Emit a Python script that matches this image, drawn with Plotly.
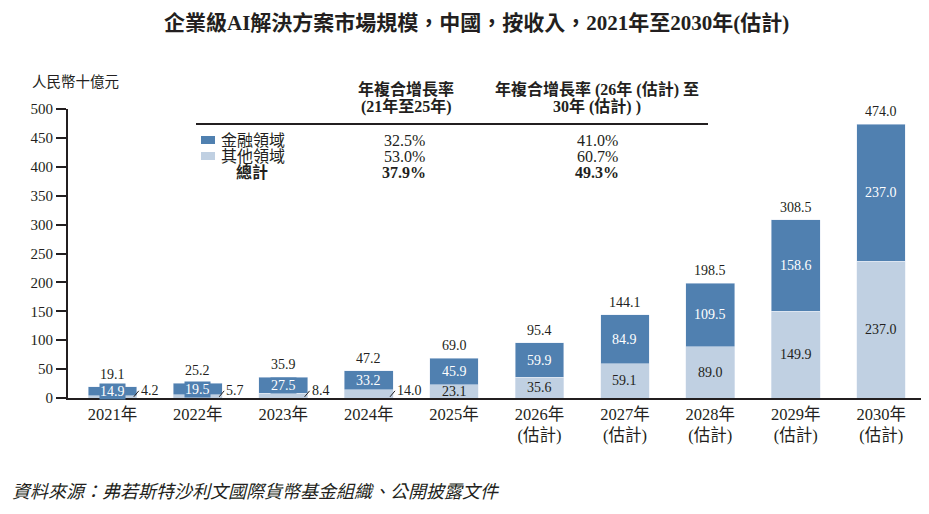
import plotly.graph_objects as go

# ---- data ----
years = [2021, 2022, 2023, 2024, 2025, 2026, 2027, 2028, 2029, 2030]
year_labels = ["2021年", "2022年", "2023年", "2024年", "2025年",
               "2026年<br>(估計)", "2027年<br>(估計)", "2028年<br>(估計)",
               "2029年<br>(估計)", "2030年<br>(估計)"]
finance = [14.9, 19.5, 27.5, 33.2, 45.9, 59.9, 84.9, 109.5, 158.6, 237.0]
other = [4.2, 5.7, 8.4, 14.0, 23.1, 35.6, 59.1, 89.0, 149.9, 237.0]
total = [19.1, 25.2, 35.9, 47.2, 69.0, 95.4, 144.1, 198.5, 308.5, 474.0]
y_ticks = [0, 50, 100, 150, 200, 250, 300, 350, 400, 450, 500]

segment_names = ["金融領域", "其他領域", "總計"]
cagr_hist = ["32.5%", "53.0%", "37.9%"]
cagr_fcst = ["41.0%", "60.7%", "49.3%"]
hist_header = ["年複合增長率", "(21年至25年)"]
fcst_header = ["年複合增長率 (26年 (估計) 至", "30年 (估計) )"]

title = "企業級AI解決方案市場規模，中國，按收入，2021年至2030年(估計)"
unit = "人民幣十億元"
source = "資料來源：弗若斯特沙利文國際貨幣基金組織、公開披露文件"

DARK = "#5080b0"
LIGHT = "#c0d0e2"
INK = "#231f20"
FONT = "Liberation Serif, 'Noto Sans CJK TC', serif"

# the page body has an 8px margin, so the figure is drawn 8px in from the window corner
OFF = 8
W, H = 929 - OFF, 514 - OFF
L, R, T, B = 68 - OFF, 6, 109 - OFF, 116

PLOT_W = W - L - R
PLOT_H = H - T - B


def px(x):
    # window x pixel -> paper
    return (x - 68) / PLOT_W


def py(y):
    # window y pixel -> paper
    return (398 - y) / PLOT_H


def note(x, y, text, size=16, xanchor="center", **kw):
    return dict(xref="paper", yref="paper", x=px(x), y=py(y), text=text,
                xanchor=xanchor, yanchor="middle", showarrow=False,
                font=dict(size=size, color=INK), **kw)


fig = go.Figure()
fig.add_trace(go.Bar(x=years, y=other, name="其他領域", marker_color=LIGHT,
                     width=0.57, showlegend=False, hoverinfo="y"))
fig.add_trace(go.Bar(x=years, y=finance, name="金融領域", marker_color=DARK,
                     width=0.57, showlegend=False, hoverinfo="y"))

ann = []
for yr, f, o, t in zip(years, finance, other, total):
    # total above the bar
    ann.append(dict(x=yr, y=t, text=f"{t:.1f}", showarrow=False, xanchor="center",
                    yanchor="bottom", yshift=3, font=dict(size=14, color=INK)))
    # finance segment (white)
    ann.append(dict(x=yr, y=o + f / 2, text=f"{f:.1f}", showarrow=False,
                    xanchor="center", yanchor="middle", bgcolor=DARK, borderpad=0,
                    font=dict(size=14, color="white")))
    # other segment: small ones sit outside with a leader line
    if yr <= 2024:
        ann.append(dict(x=yr + 0.25, y=2, text=f"{o:.1f}", showarrow=True,
                        arrowhead=0, arrowwidth=1, arrowcolor=INK,
                        ax=5, ay=-6, xanchor="left", yanchor="middle",
                        font=dict(size=14, color=INK)))
    else:
        ann.append(dict(x=yr, y=o / 2, text=f"{o:.1f}", showarrow=False,
                        xanchor="center", yanchor="middle",
                        font=dict(size=14, color=INK)))

# title, unit, source
ann.append(note(476, 23, f"<b>{title}</b>", size=21))
ann.append(note(30, 82, unit, size=14.5, xanchor="left"))
ann.append(note(10, 492, f"<i>{source}</i>", size=18, xanchor="left"))

# CAGR table
for i, line in enumerate(hist_header):
    ann.append(note(406, 89 + 18 * i, f"<b>{line}</b>"))
for i, line in enumerate(fcst_header):
    ann.append(note(597, 89 + 18 * i, f"<b>{line}</b>"))

shapes = [dict(type="line", xref="paper", yref="paper", x0=px(196), x1=px(708),
               y0=py(124), y1=py(124), line=dict(color=INK, width=2))]

row_y = [140, 156, 172]
swatches = [DARK, LIGHT, None]
for name, h, f, yy, sw in zip(segment_names, cagr_hist, cagr_fcst, row_y, swatches):
    if sw:
        shapes.append(dict(type="rect", xref="paper", yref="paper", x0=px(201), x1=px(215),
                           y0=py(yy + 4), y1=py(yy - 4), fillcolor=sw, line=dict(width=0)))
        ann.append(note(219, yy, name, xanchor="left"))
        ann.append(note(404, yy, h))
        ann.append(note(597, yy, f))
    else:
        ann.append(note(252, yy, f"<b>{name}</b>"))
        ann.append(note(404, yy, f"<b>{h}</b>"))
        ann.append(note(597, yy, f"<b>{f}</b>"))

fig.update_layout(
    barmode="stack",
    width=W, height=H,
    margin=dict(l=L, r=R, t=T, b=B),
    plot_bgcolor="white", paper_bgcolor="white",
    font=dict(family=FONT, color=INK, size=15),
    annotations=ann,
    shapes=shapes,
    showlegend=False,
)
fig.update_xaxes(range=[2020.48, 2030.49], tickvals=years, ticktext=year_labels,
                 showline=True, linecolor=INK, linewidth=2, ticks="",
                 showgrid=False, zeroline=False, tickfont=dict(size=16.5, color=INK))
fig.update_yaxes(range=[0, 500], tickvals=y_ticks, showline=True, linecolor=INK,
                 linewidth=2, ticks="outside", ticklen=10, tickwidth=2, tickcolor=INK,
                 showgrid=False, zeroline=False, tickfont=dict(size=15, color=INK))

fig.write_html("out.html")
